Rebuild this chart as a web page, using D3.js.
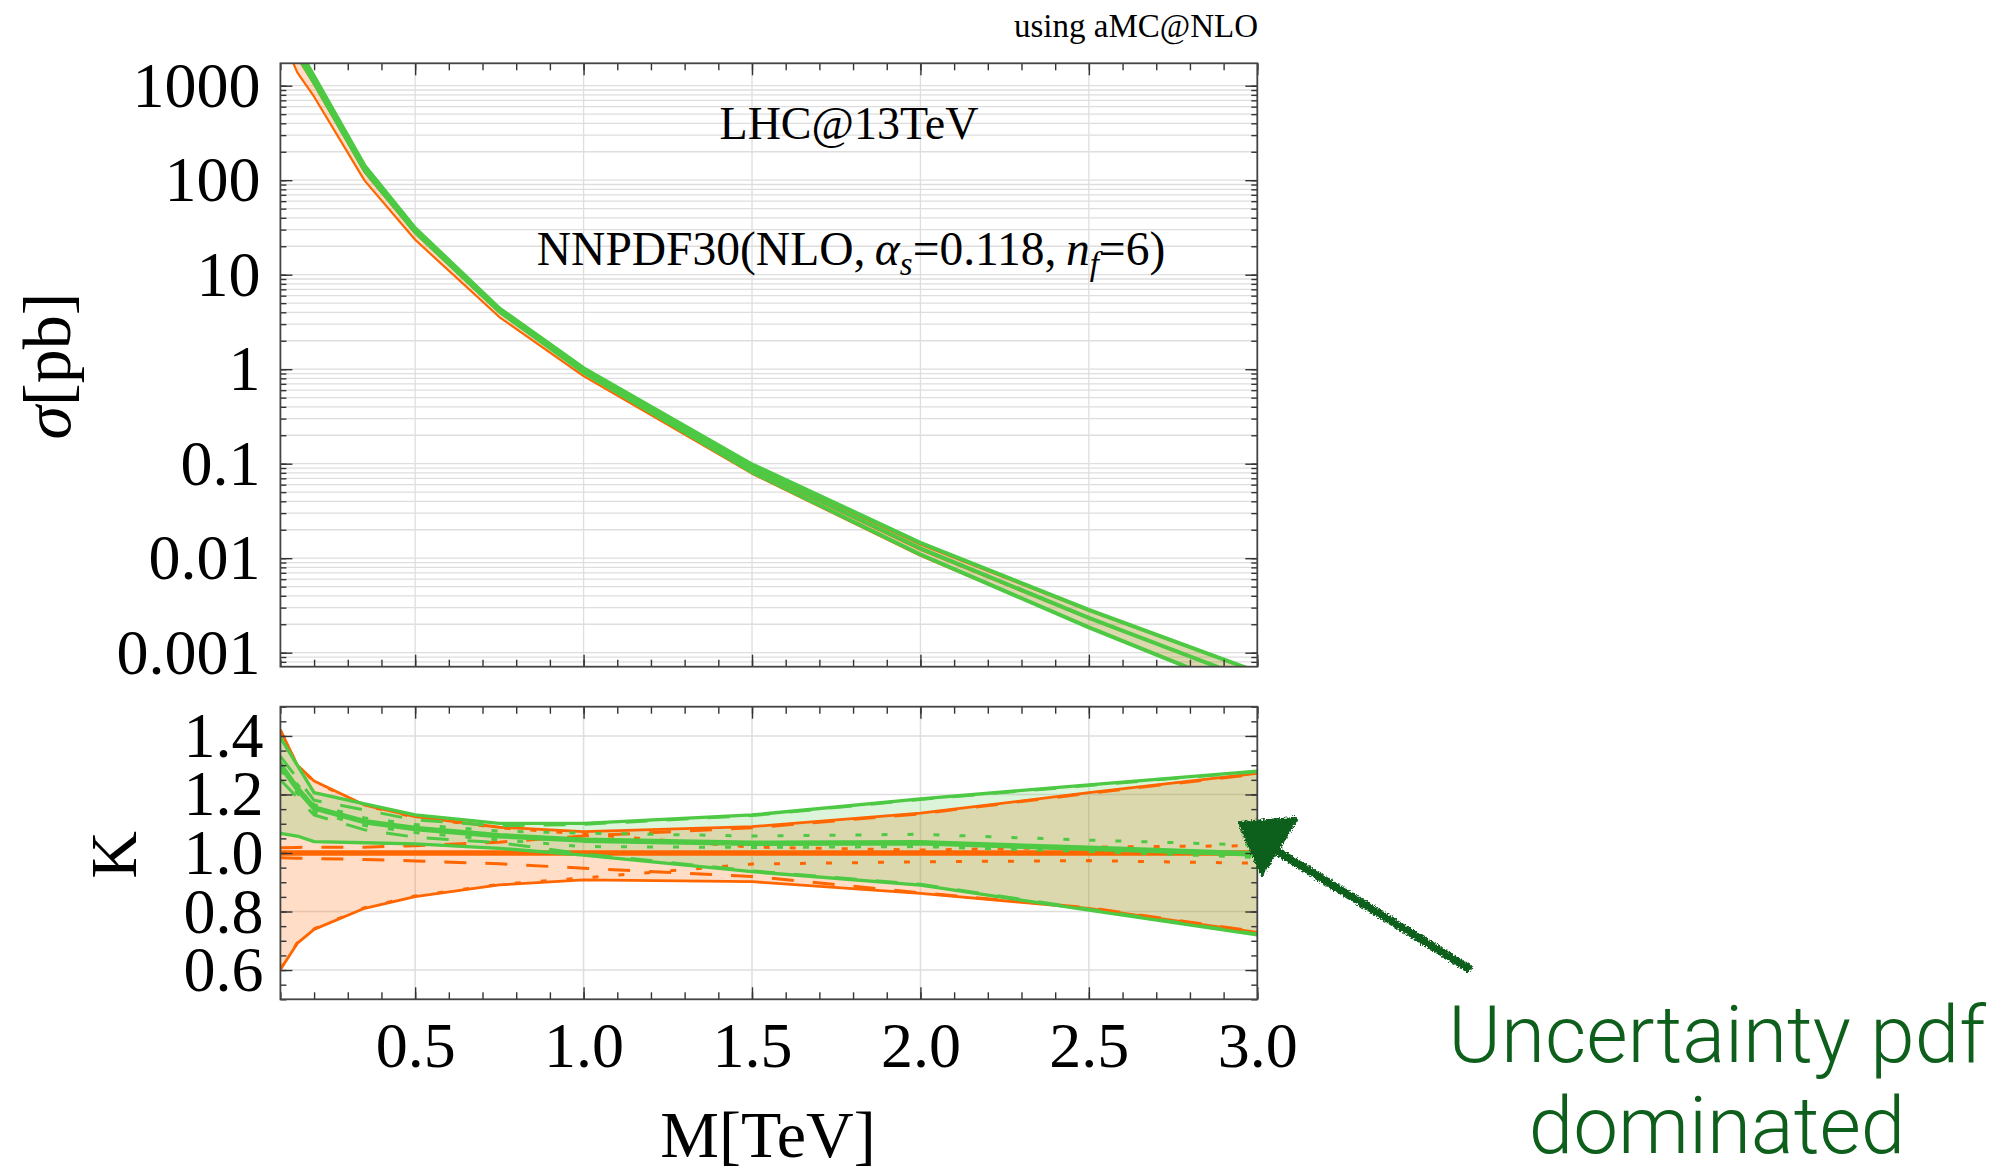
<!DOCTYPE html>
<html><head><meta charset="utf-8">
<script src="https://cdn.jsdelivr.net/npm/d3@7"></script>
<style>body{margin:0;background:#fff}svg{display:block}</style>
</head><body>
<script>
// ---------------- data ----------------
const massTeV   = [0.1, 0.15, 0.2, 0.35, 0.5, 0.75, 1.0, 1.5, 2.0, 2.5, 3.0];
// LO cross section (pb), central
const sigmaLO   = [6000, 2000, 1035, 122, 27.5, 4.0, 0.93, 0.087, 0.0123, 0.0023, 0.00049];
// K-factor panel, LO (orange)
const kLOcentral  = [1.0, 1.0, 1.0, 1.0, 1.0, 1.0, 1.0, 1.0, 1.0, 1.0, 1.0];
const kLOup       = [1.421, 1.301, 1.246, 1.164, 1.124, 1.088, 1.073, 1.090, 1.136, 1.206, 1.272];
const kLOlo       = [0.602, 0.691, 0.739, 0.811, 0.851, 0.891, 0.908, 0.902, 0.862, 0.811, 0.729];
const kLOscaleUp  = [1.018, 1.019, 1.020, 1.020, 1.025, 1.037, 1.058, 1.086, 1.134, 1.204, 1.270];
const kLOscaleLo  = [0.984, 0.982, 0.981, 0.978, 0.973, 0.963, 0.948, 0.920, 0.864, 0.813, 0.731];
const kLOpdfUp    = [1.419, 1.299, 1.244, 1.162, 1.122, 1.086, 1.065, 1.020, 1.010, 1.020, 1.025];
const kLOpdfLo    = [0.604, 0.693, 0.741, 0.813, 0.853, 0.893, 0.915, 0.962, 0.970, 0.974, 0.965];
// K-factor panel, NLO (green)
const kNLOcentral = [1.300, 1.220, 1.154, 1.107, 1.084, 1.059, 1.044, 1.033, 1.035, 1.016, 0.997];
const kNLOup      = [1.395, 1.300, 1.206, 1.168, 1.130, 1.101, 1.101, 1.130, 1.185, 1.233, 1.280];
const kNLOlo      = [1.067, 1.058, 1.039, 1.035, 1.031, 1.016, 0.993, 0.936, 0.890, 0.805, 0.720];
const kNLOscaleUp = [1.330, 1.255, 1.180, 1.147, 1.113, 1.093, 1.098, 1.128, 1.183, 1.231, 1.278];
const kNLOscaleLo = [1.250, 1.190, 1.130, 1.079, 1.054, 1.035, 0.997, 0.939, 0.893, 0.808, 0.723];
const kNLOpdfUp   = [1.310, 1.235, 1.165, 1.120, 1.097, 1.075, 1.068, 1.058, 1.064, 1.044, 1.027];
const kNLOpdfLo   = [1.285, 1.205, 1.140, 1.094, 1.070, 1.045, 1.022, 1.019, 1.022, 1.005, 0.985];
// ticks
const sigmaTicks      = [1000, 100, 10, 1, 0.1, 0.01, 0.001];
const sigmaTickLabels = ["1000", "100", "10", "1", "0.1", "0.01", "0.001"];
const kTicks          = [0.6, 0.8, 1.0, 1.2, 1.4];
const kTickLabels     = ["0.6", "0.8", "1.0", "1.2", "1.4"];
const massTicks       = [0.5, 1.0, 1.5, 2.0, 2.5, 3.0];
const massTickLabels  = ["0.5", "1.0", "1.5", "2.0", "2.5", "3.0"];

// ---------------- layout ----------------
const W = 2001, H = 1173;
const L = 280.4, R = 1257.3, T1 = 63.3, B1 = 666.7, T2 = 706.7, B2 = 999.3;
const ORANGE = "#ff6600", GREEN = "#4dc944";
const FILL_O = "rgba(255,102,0,0.22)", FILL_G = "rgba(77,201,68,0.20)";
const SERIF = "'Liberation Serif','Times New Roman',serif";
const GRID = "#dedede";

const x  = d3.scaleLinear().domain([0.1, 3.0]).range([L, R]);
const yS = d3.scaleLog().domain([0.000711, 1726]).range([B1, T1]);
const yK = d3.scaleLinear().domain([0.5, 1.5]).range([B2, T2]);

const svg = d3.select("body").append("svg").attr("width", W).attr("height", H)
  .style("background", "#fff");
const defs = svg.append("defs");
defs.append("clipPath").attr("id", "clipTop").append("rect")
  .attr("x", L).attr("y", T1).attr("width", R - L).attr("height", B1 - T1);
defs.append("clipPath").attr("id", "clipBot").append("rect")
  .attr("x", L).attr("y", T2).attr("width", R - L).attr("height", B2 - T2);
const rough = defs.append("filter").attr("id", "rough")
  .attr("x", "-20%").attr("y", "-20%").attr("width", "140%").attr("height", "140%");
rough.append("feTurbulence").attr("type", "fractalNoise").attr("baseFrequency", 0.6)
  .attr("numOctaves", 2).attr("seed", 3).attr("result", "n");
rough.append("feDisplacementMap").attr("in", "SourceGraphic").attr("in2", "n")
  .attr("scale", 6).attr("xChannelSelector", "R").attr("yChannelSelector", "G");

const idx = d3.range(massTeV.length);

// ---------------- grids ----------------
const gTop = svg.append("g");
const gBot = svg.append("g");
gTop.selectAll("line.hg").data(yS.ticks()).join("line")
  .attr("x1", L).attr("x2", R).attr("y1", d => yS(d)).attr("y2", d => yS(d))
  .attr("stroke", GRID).attr("stroke-width", 1.3);
gTop.selectAll("line.vg").data(massTicks.slice(0, -1)).join("line")
  .attr("x1", d => x(d)).attr("x2", d => x(d)).attr("y1", T1).attr("y2", B1)
  .attr("stroke", GRID).attr("stroke-width", 1.3);
gBot.selectAll("line.hg").data(kTicks).join("line")
  .attr("x1", L).attr("x2", R).attr("y1", d => yK(d)).attr("y2", d => yK(d))
  .attr("stroke", GRID).attr("stroke-width", 1.5);
gBot.selectAll("line.vg").data(massTicks.slice(0, -1)).join("line")
  .attr("x1", d => x(d)).attr("x2", d => x(d)).attr("y1", T2).attr("y2", B2)
  .attr("stroke", GRID).attr("stroke-width", 1.5);

// ---------------- top panel curves ----------------
const pt = svg.append("g").attr("clip-path", "url(#clipTop)");
function sigArea(lo, up) {
  return d3.area().x(i => x(massTeV[i]))
    .y0(i => yS(sigmaLO[i] * lo[i])).y1(i => yS(sigmaLO[i] * up[i]))(idx);
}
function sigLine(k) {
  return d3.line().x(i => x(massTeV[i])).y(i => yS(sigmaLO[i] * k[i]))(idx);
}
pt.append("path").attr("d", sigArea(kLOlo, kLOup)).attr("fill", FILL_O);
pt.append("path").attr("d", sigArea(kNLOlo, kNLOup)).attr("fill", FILL_G);
[kLOup, kLOlo, kLOcentral].forEach(k =>
  pt.append("path").attr("d", sigLine(k)).attr("fill", "none")
    .attr("stroke", ORANGE).attr("stroke-width", 2.2).attr("stroke-linejoin", "round"));
[kNLOup, kNLOlo, kNLOcentral].forEach(k =>
  pt.append("path").attr("d", sigLine(k)).attr("fill", "none")
    .attr("stroke", GREEN).attr("stroke-width", 4).attr("stroke-linejoin", "round"));

// ---------------- bottom panel curves ----------------
const pb = svg.append("g").attr("clip-path", "url(#clipBot)");
function kArea(lo, up) {
  return d3.area().x(i => x(massTeV[i])).y0(i => yK(lo[i])).y1(i => yK(up[i]))(idx);
}
function kLine(k) {
  return d3.line().x(i => x(massTeV[i])).y(i => yK(k[i]))(idx);
}
pb.append("path").attr("d", kArea(kLOlo, kLOup)).attr("fill", FILL_O);
pb.append("path").attr("d", kArea(kNLOlo, kNLOup)).attr("fill", FILL_G);
function drawK(k, color, width, dash) {
  pb.append("path").attr("d", kLine(k)).attr("fill", "none")
    .attr("stroke", color).attr("stroke-width", width)
    .attr("stroke-dasharray", dash || null).attr("stroke-linejoin", "round");
}
drawK(kLOup, ORANGE, 2.8);
drawK(kLOlo, ORANGE, 2.8);
drawK(kLOscaleUp, ORANGE, 3, "22,19");
drawK(kLOscaleLo, ORANGE, 3, "22,19");
drawK(kLOpdfUp, ORANGE, 3, "6,20");
drawK(kLOpdfLo, ORANGE, 3, "6,20");
drawK(kLOcentral, ORANGE, 5.5);
drawK(kNLOup, GREEN, 3.3);
drawK(kNLOlo, GREEN, 3.3);
drawK(kNLOscaleUp, GREEN, 3, "22,19");
drawK(kNLOscaleLo, GREEN, 3, "22,19");
drawK(kNLOpdfUp, GREEN, 3, "6,20");
drawK(kNLOpdfLo, GREEN, 3, "6,20");
drawK(kNLOcentral, GREEN, 5.5);

// ---------------- axes ----------------
function styleAxis(g) {
  g.select(".domain").remove();
  g.selectAll(".tick line").attr("stroke", "#333").attr("stroke-width", 1.4);
  g.selectAll("text").attr("font-family", SERIF).attr("font-size", 64).attr("fill", "#000");
  g.attr("font-family", SERIF);
}
function minorAxis(g) {
  styleAxis(g);
  g.selectAll(".tick text").remove();
}
svg.append("g").attr("transform", `translate(${L},0)`)
  .call(d3.axisLeft(yS).tickValues(yS.ticks()).tickSize(-6)).call(minorAxis);
svg.append("g").attr("transform", `translate(${L},0)`)
  .call(d3.axisLeft(yS).tickValues(sigmaTicks).tickSize(-12).tickPadding(20)
    .tickFormat((d, i) => sigmaTickLabels[i])).call(styleAxis);
svg.append("g").attr("transform", `translate(${R},0)`)
  .call(d3.axisRight(yS).tickValues(yS.ticks()).tickSize(-6)).call(minorAxis);
svg.append("g").attr("transform", `translate(${R},0)`)
  .call(d3.axisRight(yS).tickValues(sigmaTicks).tickSize(-12)).call(minorAxis);
[[T1, d3.axisTop], [B1, d3.axisBottom], [T2, d3.axisTop]].forEach(([yy, ax]) => {
  svg.append("g").attr("transform", `translate(0,${yy})`)
    .call(ax(x).tickValues(x.ticks(30)).tickSize(-7)).call(minorAxis);
  svg.append("g").attr("transform", `translate(0,${yy})`)
    .call(ax(x).tickValues(massTicks).tickSize(-12)).call(minorAxis);
});
svg.append("g").attr("transform", `translate(0,${B2})`)
  .call(d3.axisBottom(x).tickValues(x.ticks(30)).tickSize(-7)).call(minorAxis);
svg.append("g").attr("transform", `translate(0,${B2})`)
  .call(d3.axisBottom(x).tickValues(massTicks).tickSize(-12).tickPadding(22)
    .tickFormat((d, i) => massTickLabels[i])).call(styleAxis);
svg.append("g").attr("transform", `translate(${L},0)`)
  .call(d3.axisLeft(yK).tickValues(yK.ticks(20)).tickSize(-6)).call(minorAxis);
svg.append("g").attr("transform", `translate(${L},0)`)
  .call(d3.axisLeft(yK).tickValues(kTicks).tickSize(-12).tickPadding(17)
    .tickFormat((d, i) => kTickLabels[i])).call(styleAxis);
svg.append("g").attr("transform", `translate(${R},0)`)
  .call(d3.axisRight(yK).tickValues(yK.ticks(20)).tickSize(-6)).call(minorAxis);
svg.append("g").attr("transform", `translate(${R},0)`)
  .call(d3.axisRight(yK).tickValues(kTicks).tickSize(-12)).call(minorAxis);

[[T1, B1], [T2, B2]].forEach(([t, b]) =>
  svg.append("rect").attr("x", L).attr("y", t).attr("width", R - L).attr("height", b - t)
    .attr("fill", "none").attr("stroke", "#444").attr("stroke-width", 1.8));

// ---------------- texts ----------------
svg.append("text").attr("x", 1258).attr("y", 37).attr("text-anchor", "end")
  .attr("font-family", SERIF).attr("font-size", 33).text("using aMC@NLO");
svg.append("text").attr("x", 849).attr("y", 139).attr("text-anchor", "middle")
  .attr("font-family", SERIF).attr("font-size", 46).text("LHC@13TeV");
const nn = svg.append("text").attr("x", 851).attr("y", 265).attr("text-anchor", "middle")
  .attr("font-family", SERIF).attr("font-size", 47.5);
nn.append("tspan").text("NNPDF30(NLO,\u2009");
nn.append("tspan").attr("font-style", "italic").text("\u03B1");
nn.append("tspan").attr("font-style", "italic").attr("font-size", 33).attr("dy", 10).text("s");
nn.append("tspan").attr("dy", -10).text("=0.118,\u2009");
nn.append("tspan").attr("font-style", "italic").text("n");
nn.append("tspan").attr("font-style", "italic").attr("font-size", 33).attr("dy", 10).text("f");
nn.append("tspan").attr("dy", -10).text("=6)");

const sy = svg.append("text").attr("transform", "translate(70,366) rotate(-90)")
  .attr("text-anchor", "middle").attr("font-family", SERIF).attr("font-size", 68);
sy.append("tspan").attr("font-style", "italic").text("\u03C3");
sy.append("tspan").text("[pb]");
svg.append("text").attr("transform", "translate(136,855) rotate(-90)")
  .attr("text-anchor", "middle").attr("font-family", SERIF).attr("font-size", 66).text("K");
svg.append("text").attr("x", 768).attr("y", 1157).attr("text-anchor", "middle")
  .attr("font-family", SERIF).attr("font-size", 66).text("M[TeV]");

// ---------------- annotation ----------------
const DG = "#0e5e1c";
const arrow = svg.append("g").attr("filter", "url(#rough)");
arrow.append("line").attr("x1", 1468).attr("y1", 968).attr("x2", 1272).attr("y2", 848)
  .attr("stroke", DG).attr("stroke-width", 8).attr("stroke-linecap", "round");
arrow.append("path").attr("d", "M1240,823 L1296,819 L1262,874 Z")
  .attr("fill", DG).attr("stroke", DG).attr("stroke-width", 4).attr("stroke-linejoin", "round");
const ann = svg.append("text").attr("text-anchor", "middle").attr("fill", DG)
  .attr("font-family", "Roboto, 'Liberation Sans', sans-serif").attr("font-weight", 300)
  .attr("font-size", 80);
ann.append("tspan").attr("x", 1717).attr("y", 1062).text("Uncertainty pdf");
ann.append("tspan").attr("x", 1717).attr("y", 1153).text("dominated");
</script>
</body></html>
